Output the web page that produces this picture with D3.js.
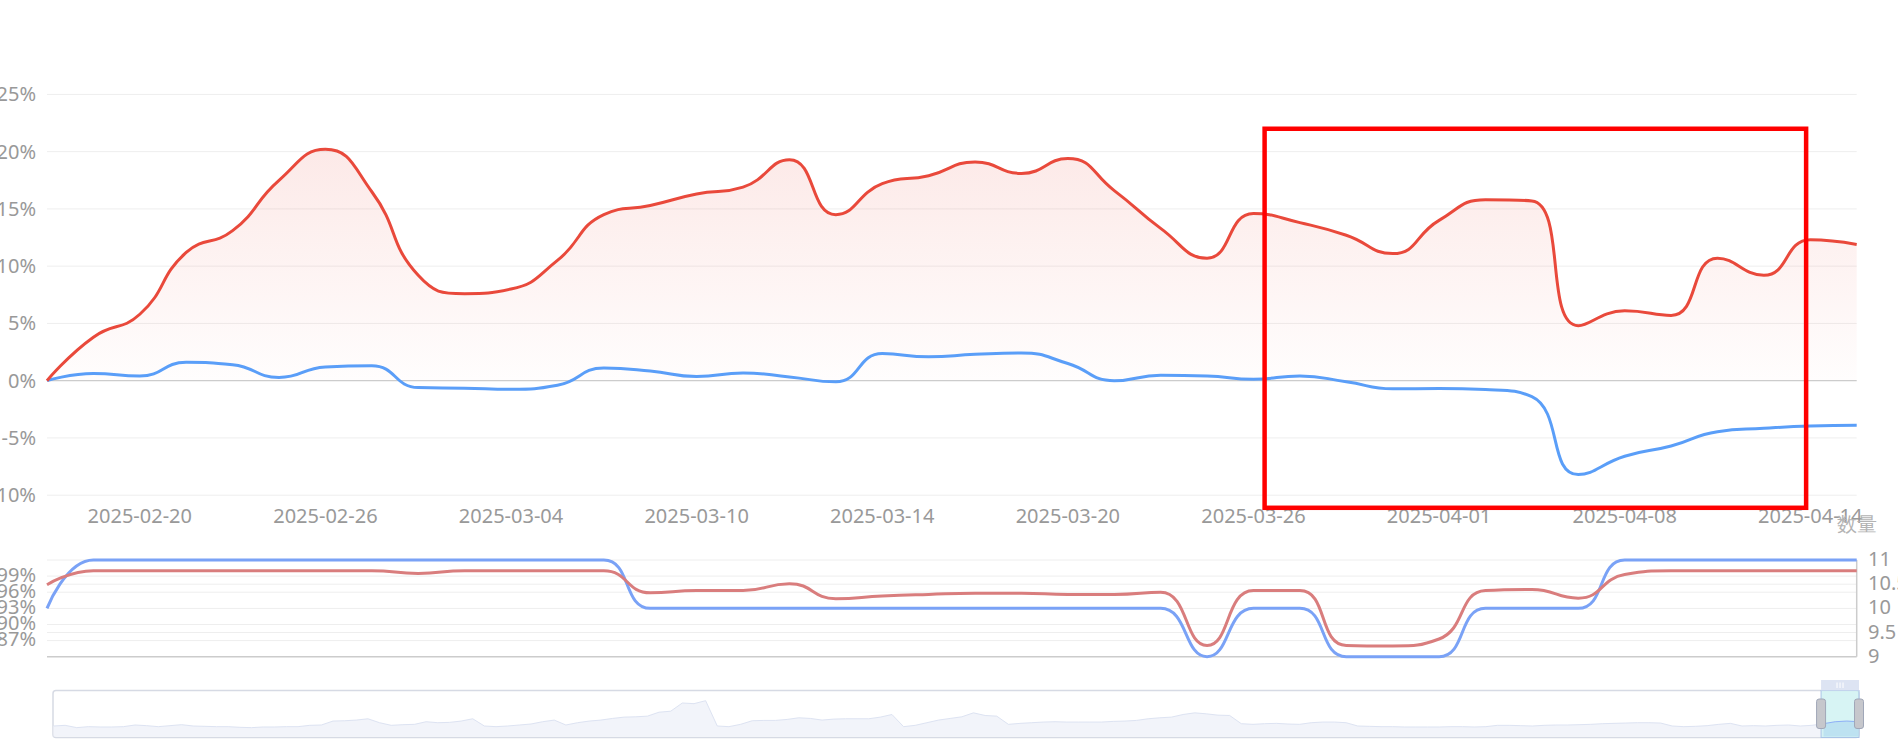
<!DOCTYPE html>
<html>
<head>
<meta charset="utf-8">
<script src="https://cdn.jsdelivr.net/npm/d3@7/dist/d3.min.js"></script>
<style>
  html, body { margin: 0; padding: 0; background: #fff; overflow: hidden; }
  svg { display: block; }
  text { font-family: "Noto Sans", "Liberation Sans", sans-serif; }
</style>
</head>
<body>
<svg id="chart" width="1898" height="741"></svg>
<script>
// ---------------- DATA ----------------
const categories = ["2025-02-18","2025-02-19","2025-02-20","2025-02-21","2025-02-24","2025-02-25","2025-02-26","2025-02-27","2025-02-28",
  "2025-03-03","2025-03-04","2025-03-05","2025-03-06","2025-03-07","2025-03-10","2025-03-11","2025-03-12","2025-03-13","2025-03-14",
  "2025-03-17","2025-03-18","2025-03-19","2025-03-20","2025-03-21","2025-03-24","2025-03-25","2025-03-26","2025-03-27","2025-03-28",
  "2025-03-31","2025-04-01","2025-04-02","2025-04-03","2025-04-07","2025-04-08","2025-04-09","2025-04-10","2025-04-11","2025-04-14","2025-04-15"];
const xTickLabels = ["2025-02-20","2025-02-26","2025-03-04","2025-03-10","2025-03-14","2025-03-20","2025-03-26","2025-04-01","2025-04-08","2025-04-14"];

// main chart: cumulative return (%)
const strategyReturn = [0, 3.8, 5.8, 11.2, 13.1, 17.5, 20.2, 16.5, 9.2, 7.6, 8.0, 10.5, 14.5, 15.3, 16.3, 16.9, 19.3, 14.5, 17.2, 17.9,
  19.1, 18.1, 19.4, 16.6, 13.3, 10.7, 14.6, 13.8, 12.7, 11.1, 14.0, 15.8, 15.7, 4.8, 6.1, 5.7, 10.7, 9.2, 12.3, 11.9];
const benchmarkReturn = [0, 0.62, 0.4, 1.6, 1.4, 0.28, 1.2, 1.3, -0.6, -0.65, -0.75, -0.4, 1.1, 0.85, 0.37, 0.68, 0.33, -0.1, 2.37, 2.08,
  2.3, 2.42, 1.5, 0.0, 0.48, 0.42, 0.13, 0.42, -0.1, -0.71, -0.68, -0.77, -1.4, -8.2, -6.6, -5.7, -4.45, -4.16, -3.96, -3.9];
const mainYTicks = [25, 20, 15, 10, 5, 0, -5, -10];

// lower chart: position ratio (%) on left axis, quantity on right axis
const positionRatio = [97.4, 100, 100, 100, 100, 100, 100, 100, 99.5, 100, 100, 100, 100, 95.9, 96.3, 96.3, 97.6, 94.8, 95.3, 95.6,
  95.8, 95.8, 95.6, 95.6, 96.0, 86.1, 96.3, 96.3, 86.1, 86.0, 87.3, 96.3, 96.5, 94.9, 99.3, 100, 100, 100, 100, 100];
const quantity = [10, 11, 11, 11, 11, 11, 11, 11, 11, 11, 11, 11, 11, 10, 10, 10, 10, 10, 10, 10,
  10, 10, 10, 10, 10, 9, 10, 10, 9, 9, 9, 10, 10, 10, 11, 11, 11, 11, 11, 11];
const leftGridTicks = [102, 99, 96, 93, 90, 87, 84];
const leftLabelTicks = [99, 96, 93, 90, 87];
const rightTicks = [11, 10.5, 10, 9.5, 9];
const rightAxisName = "数量";

// data-zoom slider: shadow of the full history (relative level) and selected window (%)
const sliderShadow = [35,37,30,33,32,32,33,38,36,33, 36,39,35,34,33,33,31,30,32,32, 33,33,37,38,50,51,53,57,45,37,
  39,40,48,45,46,50,57,35,33,35, 38,41,48,53,38,45,50,53,58,62, 63,65,77,80,105,103,112,35,33,40,
  51,52,52,55,60,58,53,56,57,57, 57,62,70,33,37,45,53,58,63,75, 67,65,40,43,45,47,48,47,47,47,
  47,49,50,52,57,60,62,70,75,72, 68,67,42,40,42,43,41,40,45,47, 47,45,35,34,33,33,32,32,32,32,
  33,33,32,33,37,37,36,35,37,38, 38,39,40,42,43,44,45,45,44,35, 33,34,36,40,43,35,36,35,37,38,
  35,37,42,48,50,48];
const zoomStart = 97.9, zoomEnd = 100;

// highlight box (in data space: category index, return %)
const highlight = { i0: 26.24, i1: 37.91, v0: 22.0, v1: -11.1 };

// ---------------- ECharts-like smooth curve ----------------
function SmoothCurve(context, smooth) { this._context = context; this._smooth = smooth; }
SmoothCurve.prototype = {
  areaStart() { this._line = 0; },
  areaEnd() { this._line = NaN; },
  lineStart() { this._xs = []; this._ys = []; },
  point(x, y) { this._xs.push(+x); this._ys.push(+y); },
  lineEnd() {
    const xs = this._xs, ys = this._ys, n = xs.length, ctx = this._context, s = this._smooth;
    if (n) {
      if (this._line) ctx.lineTo(xs[0], ys[0]); else ctx.moveTo(xs[0], ys[0]);
      let cpx0 = xs[0], cpy0 = ys[0], prevX = xs[0], prevY = ys[0];
      for (let i = 1; i < n; i++) {
        const x = xs[i], y = ys[i];
        const ddx = x - prevX, ddy = y - prevY;
        if (ddx * ddx + ddy * ddy < 0.5) continue;
        let cpx1, cpy1, ncx = x, ncy = y;
        if (i === n - 1) { cpx1 = x; cpy1 = y; }
        else {
          const nextX = xs[i + 1], nextY = ys[i + 1];
          let vx = nextX - prevX, vy = nextY - prevY;
          const lp = Math.hypot(x - prevX, y - prevY);
          const ln = Math.hypot(nextX - x, nextY - y) || 1e-9;
          const r = ln / (ln + lp);
          ncx = x + vx * s * r; ncy = y + vy * s * r;
          ncx = Math.min(ncx, Math.max(nextX, x)); ncy = Math.min(ncy, Math.max(nextY, y));
          ncx = Math.max(ncx, Math.min(nextX, x)); ncy = Math.max(ncy, Math.min(nextY, y));
          vx = ncx - x; vy = ncy - y;
          cpx1 = x - vx * lp / ln; cpy1 = y - vy * lp / ln;
          cpx1 = Math.min(cpx1, Math.max(prevX, x)); cpy1 = Math.min(cpy1, Math.max(prevY, y));
          cpx1 = Math.max(cpx1, Math.min(prevX, x)); cpy1 = Math.max(cpy1, Math.min(prevY, y));
          vx = x - cpx1; vy = y - cpy1;
          ncx = x + vx * ln / lp; ncy = y + vy * ln / lp;
        }
        ctx.bezierCurveTo(cpx0, cpy0, cpx1, cpy1, x, y);
        cpx0 = ncx; cpy0 = ncy; prevX = x; prevY = y;
      }
    }
    if (this._line || (this._line !== 0 && n === 1)) ctx.closePath();
    this._line = 1 - this._line;
  }
};
const curveSmooth = ctx => new SmoothCurve(ctx, 0.5);

// ---------------- LAYOUT ----------------
const svg = d3.select("#chart");
const W = 1898, H = 741;
const gridL = 47, gridR = 1856.7;
const mainTop = 94.4, mainBottom = 495.2;
const lowTop = 560, lowBottom = 656.7;
const labelColor = "#999";
const fontSize = 20;

const x = d3.scalePoint().domain(d3.range(categories.length)).range([gridL, gridR]);
const xi = d3.scaleLinear().domain([0, categories.length - 1]).range([gridL, gridR]);
const y = d3.scaleLinear().domain([-10, 25]).range([mainBottom, mainTop]);
const yL = d3.scaleLinear().domain([84, 102]).range([lowBottom, lowTop]);
const yR = d3.scaleLinear().domain([9, 11]).range([lowBottom, lowTop]);

const defs = svg.append("defs");
const grad = defs.append("linearGradient").attr("id", "redArea").attr("x1", 0).attr("y1", 0).attr("x2", 0).attr("y2", 1);
grad.append("stop").attr("offset", "0%").attr("stop-color", "#e9493b").attr("stop-opacity", 0.12);
grad.append("stop").attr("offset", "100%").attr("stop-color", "#e9493b").attr("stop-opacity", 0.01);

// ---------------- MAIN CHART ----------------
const gMain = svg.append("g");
gMain.selectAll("line.grid").data(mainYTicks.filter(d => d !== 0)).join("line")
  .attr("x1", gridL).attr("x2", gridR).attr("y1", d => y(d)).attr("y2", d => y(d))
  .attr("stroke", "#eeeeee").attr("stroke-width", 1);

gMain.selectAll("text.ylab").data(mainYTicks).join("text")
  .attr("x", 36).attr("y", d => y(d)).attr("dy", "0.35em")
  .attr("text-anchor", "end").attr("fill", labelColor).attr("font-size", fontSize)
  .text(d => d + "%");

// area + lines
const area = d3.area().x((d, i) => x(i)).y0(y(0)).y1(d => y(d)).curve(curveSmooth);
const line = (yy) => d3.line().x((d, i) => x(i)).y(d => yy(d)).curve(curveSmooth);

gMain.append("path").attr("d", area(strategyReturn)).attr("fill", "url(#redArea)");

// zero axis line
gMain.append("line").attr("x1", gridL).attr("x2", gridR).attr("y1", y(0)).attr("y2", y(0))
  .attr("stroke", "#cccccc").attr("stroke-width", 1.2);

gMain.append("path").attr("d", line(y)(benchmarkReturn)).attr("fill", "none")
  .attr("stroke", "#5a9ef8").attr("stroke-width", 3).attr("stroke-linejoin", "round");
gMain.append("path").attr("d", line(y)(strategyReturn)).attr("fill", "none")
  .attr("stroke", "#e9493b").attr("stroke-width", 3).attr("stroke-linejoin", "round");

// x tick labels
gMain.selectAll("text.xlab").data(xTickLabels).join("text")
  .attr("x", d => x(categories.indexOf(d))).attr("y", 523)
  .attr("text-anchor", "middle").attr("fill", labelColor).attr("font-size", fontSize)
  .text(d => d);

// ---------------- LOWER CHART ----------------
const gLow = svg.append("g");
const gridVals = Array.from(new Set([...leftGridTicks.map(v => yL(v)), ...rightTicks.map(v => yR(v))].map(v => Math.round(v * 10) / 10)))
  .filter(v => Math.abs(v - lowBottom) > 1);
gLow.selectAll("line.grid").data(gridVals).join("line")
  .attr("x1", gridL).attr("x2", gridR).attr("y1", d => d).attr("y2", d => d)
  .attr("stroke", "#eeeeee").attr("stroke-width", 1);
gLow.append("line").attr("x1", gridL).attr("x2", gridR).attr("y1", lowBottom).attr("y2", lowBottom)
  .attr("stroke", "#cccccc").attr("stroke-width", 1.5);
gLow.append("line").attr("x1", gridR).attr("x2", gridR).attr("y1", lowTop).attr("y2", lowBottom)
  .attr("stroke", "#cccccc").attr("stroke-width", 1.5);

gLow.selectAll("text.ll").data(leftLabelTicks).join("text")
  .attr("x", 36).attr("y", d => yL(d)).attr("dy", "0.28em")
  .attr("text-anchor", "end").attr("fill", labelColor).attr("font-size", fontSize)
  .text(d => d + "%");
gLow.selectAll("text.rl").data(rightTicks).join("text")
  .attr("x", 1868).attr("y", d => yR(d)).attr("dy", "0.3em")
  .attr("text-anchor", "start").attr("fill", labelColor).attr("font-size", fontSize)
  .text(d => d);
gLow.append("text").attr("x", gridR).attr("y", 531).attr("text-anchor", "middle")
  .attr("fill", "#b3b3b3").attr("font-size", fontSize)
  .attr("font-family", "'Noto Sans CJK SC', sans-serif").text(rightAxisName);

gLow.append("path").attr("d", line(yR)(quantity)).attr("fill", "none")
  .attr("stroke", "#7aa2f6").attr("stroke-width", 3).attr("stroke-linejoin", "round");
gLow.append("path").attr("d", line(yL)(positionRatio)).attr("fill", "none")
  .attr("stroke", "#d97d7d").attr("stroke-width", 3).attr("stroke-linejoin", "round");

// ---------------- DATA ZOOM SLIDER ----------------
const sL = 53, sR = 1859, sT = 690.5, sB = 737.5;
const gS = svg.append("g");
const sx = d3.scaleLinear().domain([0, sliderShadow.length - 1]).range([sL + 0.5, sR - 0.5]);
const sy = d3.scaleLinear().domain([0, 112]).range([sB, 700.7]);
const pct = d3.scaleLinear().domain([0, 100]).range([sL, sR]);

gS.append("rect").attr("x", sL).attr("y", sT).attr("width", sR - sL).attr("height", sB - sT)
  .attr("rx", 3).attr("fill", "#fff").attr("stroke", "#d6dae4").attr("stroke-width", 1.5);

const sArea = d3.area().x((d, i) => sx(i)).y0(sB - 1).y1(d => sy(d));
const sLine = d3.line().x((d, i) => sx(i)).y(d => sy(d));
gS.append("path").attr("d", sArea(sliderShadow)).attr("fill", "#f2f4fa");
gS.append("path").attr("d", sLine(sliderShadow)).attr("fill", "none").attr("stroke", "#dde3f2").attr("stroke-width", 1);

const wx0 = pct(zoomStart), wx1 = pct(zoomEnd);
gS.append("rect").attr("x", wx0).attr("y", sT).attr("width", wx1 - wx0).attr("height", sB - sT)
  .attr("fill", "#c9f0f0").attr("fill-opacity", 0.75).attr("stroke", "#a9c4e6").attr("stroke-width", 1);
// selected data shadow inside window
const selIdx = d3.range(sliderShadow.length).filter(i => sx(i) >= wx0 - 0.1);
const selArea = d3.area().x(i => sx(i)).y0(sB - 1).y1(i => sy(sliderShadow[i]));
gS.append("path").attr("d", selArea(selIdx)).attr("fill", "#b6def0").attr("fill-opacity", 0.8);
gS.append("path").attr("d", d3.line().x(i => sx(i)).y(i => sy(sliderShadow[i]))(selIdx))
  .attr("fill", "none").attr("stroke", "#8fb0f7").attr("stroke-width", 1);

// move handle on top
gS.append("rect").attr("x", wx0).attr("y", 680).attr("width", wx1 - wx0).attr("height", 10.5)
  .attr("fill", "#dde4f3");
[-3, 0, 3].forEach(o => {
  gS.append("line").attr("x1", (wx0 + wx1) / 2 + o).attr("x2", (wx0 + wx1) / 2 + o)
    .attr("y1", 682.5).attr("y2", 688).attr("stroke", "#fff").attr("stroke-width", 1);
});
// side handles
[wx0, wx1].forEach(hx => {
  gS.append("rect").attr("x", hx - 4.5).attr("y", 699).attr("width", 9).attr("height", 29.5)
    .attr("rx", 2.5).attr("fill", "#c6c7cc").attr("stroke", "#a0a7b8").attr("stroke-width", 1);
});

// ---------------- HIGHLIGHT BOX ----------------
svg.append("rect")
  .attr("x", xi(highlight.i0)).attr("y", y(highlight.v0))
  .attr("width", xi(highlight.i1) - xi(highlight.i0)).attr("height", y(highlight.v1) - y(highlight.v0))
  .attr("fill", "none").attr("stroke", "#ff0000").attr("stroke-width", 4.5);
</script>
</body>
</html>
